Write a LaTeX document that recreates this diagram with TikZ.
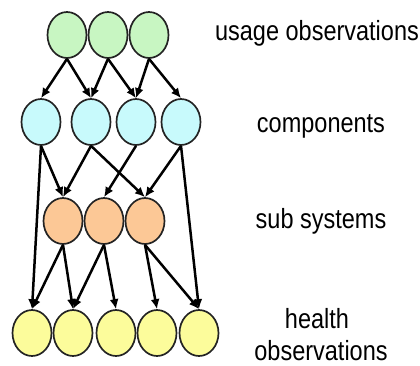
\documentclass[tikz,border=0pt]{standalone}
\usepackage{fontspec}
\setmainfont{Liberation Sans}
\usetikzlibrary{shapes.geometric,arrows.meta}
\definecolor{cgreen}{RGB}{200,246,194}
\definecolor{ccyan}{RGB}{200,250,252}
\definecolor{corange}{RGB}{252,200,150}
\definecolor{cyellow}{RGB}{252,252,155}
\definecolor{cline}{RGB}{35,35,35}
\newcommand{\lbltext}[1]{\scalebox{1}[1.18]{\fontsize{23.5}{28}\selectfont #1}}
\tikzset{
  vnode/.style={ellipse, draw=cline, line width=1.7pt, minimum width=39pt, minimum height=46pt, inner sep=0pt},
  gnode/.style={vnode, fill=cgreen},
  cnode/.style={vnode, fill=ccyan},
  snode/.style={vnode, fill=corange},
  hnode/.style={vnode, fill=cyellow},
  edge/.style={line width=2.5pt, black, -{Latex[length=10pt,width=9pt]}},
  lbl/.style={anchor=base, inner sep=0pt}
}
\begin{document}
\begin{tikzpicture}[x=1pt,y=-1pt]
\useasboundingbox (0,0) rectangle (420,365);
% nodes
\node[gnode] (g1) at (67,35) {};
\node[gnode] (g2) at (108,35) {};
\node[gnode] (g3) at (149,35) {};
\node[cnode] (c1) at (41,122) {};
\node[cnode] (c2) at (91,122) {};
\node[cnode] (c3) at (136,122) {};
\node[cnode] (c4) at (181,122) {};
\node[snode] (s1) at (63,221) {};
\node[snode] (s2) at (104,221) {};
\node[snode] (s3) at (145,221) {};
\node[hnode] (h1) at (32,333) {};
\node[hnode] (h2) at (73,333) {};
\node[hnode] (h3) at (116,333) {};
\node[hnode] (h4) at (157,333) {};
\node[hnode] (h5) at (199,333) {};
% edges
\draw[edge] (g1.south) -- (c1.north);
\draw[edge] (g1.south) -- (c2.north);
\draw[edge] (g2.south) -- (c2.north);
\draw[edge] (g2.south) -- (c3.north);
\draw[edge] (g3.south) -- (c3.north);
\draw[edge] (g3.south) -- (c4.north);
\draw[edge] (c1.south) -- (s1.north);
\draw[edge] (c1.south) -- (h1.north);
\draw[edge] (c2.south) -- (s1.north);
\draw[edge] (c2.south) -- (s3.north);
\draw[edge] (c3.south) -- (s2.north);
\draw[edge] (c4.south) -- (s3.north);
\draw[edge] (c4.south) -- (h5.north);
\draw[edge] (s1.south) -- (h1.north);
\draw[edge] (s1.south) -- (h2.north);
\draw[edge] (s2.south) -- (h2.north);
\draw[edge] (s2.south) -- (h3.north);
\draw[edge] (s3.south) -- (h4.north);
\draw[edge] (s3.south) -- (h5.north);
% labels
\node[lbl] (lu) at (317,40) {\lbltext{usage observations}};
\node[lbl] (lc) at (321,132) {\lbltext{components}};
\node[lbl] (ls) at (321,228) {\lbltext{sub systems}};
\node[lbl] (lh) at (317,328) {\lbltext{health}};
\node[lbl] (lo) at (321,360) {\lbltext{observations}};
\end{tikzpicture}
\end{document}
